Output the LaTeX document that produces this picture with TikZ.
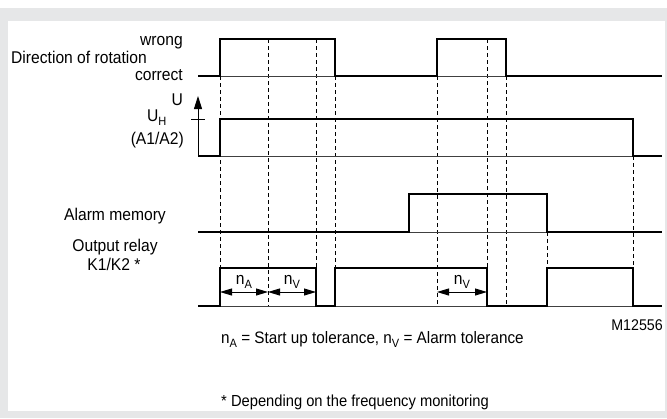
\documentclass[tikz,border=0pt]{standalone}
\usepackage{fontspec}
\setmainfont{Liberation Sans}[FakeStretch=0.92]
\usetikzlibrary{arrows.meta}
\definecolor{framegray}{RGB}{230,231,232}
\newcommand{\lowidx}[1]{\raisebox{-0.28em}{\fontsize{12}{13}\selectfont #1}}
\begin{document}
\begin{tikzpicture}[x=1pt,y=-1pt,
  sig/.style={line width=2.8pt, line join=miter, line cap=butt},
  baseln/.style={line width=0.9pt, black!75},
  guide/.style={line width=0.9pt, dash pattern=on 4pt off 3pt},
  lbl/.style={inner sep=0pt, font=\fontsize{17}{19}\selectfont},
  dimarrow/.style={line width=0.9pt, {Triangle[length=12pt,width=7pt]}-{Triangle[length=12pt,width=7pt]}},
]
\useasboundingbox (0,0) rectangle (667,418);
% frame
\fill[framegray] (0,8) rectangle (667,418);
\fill[white] (8,21) rectangle (665,411);

% guide lines
\draw[guide] (220,76) -- (220,306);
\draw[guide] (268,39) -- (268,306);
\draw[guide] (316,39) -- (316,268);
\draw[guide] (335,76) -- (335,268);
\draw[guide] (437,76) -- (437,306);
\draw[guide] (487,39) -- (487,268);
\draw[guide] (506,76) -- (506,306);
\draw[guide] (547,232) -- (547,268);
\draw[guide] (633,156) -- (633,268);

% baselines
\draw[baseln] (198,76) -- (662,76);
\draw[baseln] (198,156) -- (662,156);
\draw[baseln] (198,232) -- (662,232);
\draw[baseln] (198,306) -- (662,306);

% direction of rotation
\draw[sig] (198,76) -- (220,76) -- (220,39) -- (335,39) -- (335,76) -- (437,76) -- (437,39) -- (506,39) -- (506,76) -- (662,76);
% supply voltage
\draw[line width=0.9pt, -{Triangle[length=13pt,width=8pt]}] (198,156) -- (198,96);
\draw[line width=0.9pt] (191,119) -- (205,119);
\draw[sig] (198,156) -- (220,156) -- (220,119) -- (633,119) -- (633,156) -- (662,156);
% alarm memory
\draw[sig] (198,232) -- (409,232) -- (409,194) -- (547,194) -- (547,232) -- (662,232);
% output relay
\draw[sig] (198,306) -- (220,306) -- (220,268) -- (316,268) -- (316,306) -- (335,306) -- (335,268) -- (487,268) -- (487,306) -- (547,306) -- (547,268) -- (633,268) -- (633,306) -- (662,306);

% tolerance arrows
\draw[dimarrow] (220,292) -- (268,292);
\draw[dimarrow] (268,292) -- (316,292);
\draw[dimarrow] (437,292) -- (487,292);
\node[lbl, anchor=base] (na) at (244,284) {n\lowidx{A}};
\node[lbl, anchor=base] (nv1) at (292,284) {n\lowidx{V}};
\node[lbl, anchor=base] (nv2) at (462,284) {n\lowidx{V}};

% labels
\node[lbl, anchor=base east] (wrong) at (183,45) {wrong};
\node[lbl, anchor=base west] (dir) at (11,63) {Direction of rotation};
\node[lbl, anchor=base east] (correct) at (183,80) {correct};
\node[lbl, anchor=base east] (u) at (183,105) {U};
\node[lbl, anchor=base west] (uh) at (147,121) {U\lowidx{H}};
\node[lbl, anchor=base east] (a1a2) at (184,144) {(A1/A2)};
\node[lbl, anchor=base] (alarm) at (115,220) {Alarm memory};
\node[lbl, anchor=base] (relay) at (115,251) {Output relay};
\node[lbl, anchor=base] (k1k2) at (114,270) {K1/K2 *};
\node[lbl, anchor=base east, font=\fontsize{15.5}{17}\selectfont] (mnum) at (663,330) {M12556};
\node[lbl, anchor=base west, font=\fontsize{16.6}{18}\selectfont] (legend) at (221,343) {n\lowidx{A} = Start up tolerance, n\lowidx{V} = Alarm tolerance};
\node[lbl, anchor=base west, font=\fontsize{16}{18}\selectfont] (foot) at (221,406) {* Depending on the frequency monitoring};
\end{tikzpicture}
\end{document}
